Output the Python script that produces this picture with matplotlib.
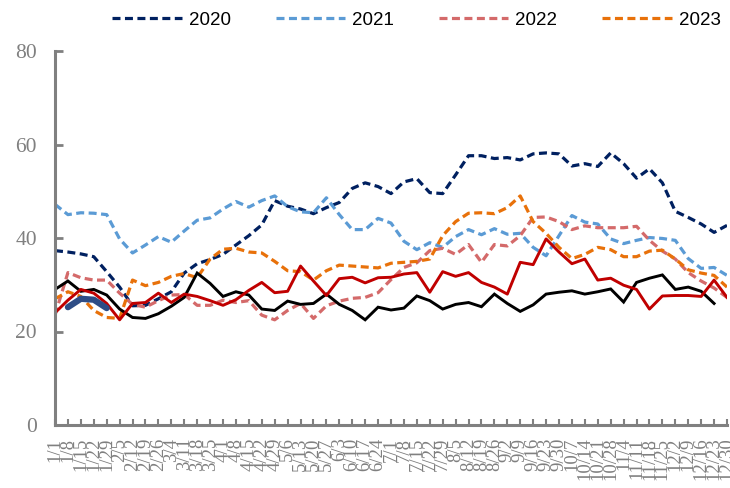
import matplotlib
matplotlib.use("Agg")
import matplotlib.pyplot as plt
import numpy as np

dates = ["1/1","1/8","1/15","1/22","1/29","2/5","2/12","2/19","2/26","3/4","3/11","3/18","3/25",
         "4/1","4/8","4/15","4/22","4/29","5/6","5/13","5/20","5/27","6/3","6/10","6/17","6/24",
         "7/1","7/8","7/15","7/22","7/29","8/5","8/12","8/19","8/26","9/2","9/9","9/16","9/23","9/30",
         "10/7","10/14","10/21","10/28","11/4","11/11","11/18","11/25","12/2","12/9","12/16","12/23","12/30"]

y2020 = [37.3,37.0,36.6,36.0,32.8,29.5,25.5,25.6,27.0,28.5,32.5,34.5,35.4,36.5,38.5,40.5,42.8,48.0,
         46.8,46.2,45.2,46.5,47.6,50.6,51.8,51.0,49.5,52.0,52.7,49.7,49.5,53.5,57.6,57.6,57.0,57.2,
         56.7,58.0,58.2,58.0,55.4,55.9,55.3,58.2,55.9,52.8,54.8,51.8,45.7,44.4,43.0,41.2,42.7]
y2021 = [47.2,45.0,45.4,45.3,45.0,39.8,36.8,38.5,40.3,39.1,41.5,43.8,44.3,46.2,47.8,46.6,48.0,49.0,
         46.7,45.6,45.4,48.6,45.0,41.8,41.8,44.2,43.2,39.3,37.5,39.0,38.0,40.3,41.8,40.7,42.0,40.8,
         41.0,38.0,36.2,40.5,44.8,43.4,43.0,39.8,38.8,39.5,40.1,39.9,39.5,35.6,33.5,33.7,32.0]
y2022 = [23.5,32.6,31.5,31.0,31.0,28.2,25.8,25.2,26.6,27.8,27.9,25.6,25.6,26.7,26.2,26.6,23.5,22.5,
         24.5,26.0,22.8,25.5,26.5,27.1,27.3,28.3,31.1,33.7,34.7,37.3,37.8,36.5,38.6,34.8,38.6,38.3,
         40.5,44.4,44.5,43.5,41.8,42.6,42.2,42.2,42.2,42.5,39.5,37.2,35.5,32.6,30.8,29.3,27.3]
y2023 = [27.0,28.5,27.5,24.5,23.0,22.8,31.0,29.8,30.5,31.8,32.4,31.5,35.5,37.6,37.8,37.0,36.8,35.0,
         33.0,32.8,31.0,33.0,34.2,34.0,33.8,33.6,34.6,34.8,35.0,35.5,40.5,43.5,45.3,45.4,45.2,46.5,
         49.0,43.5,41.0,38.0,35.6,36.5,38.0,37.5,36.0,36.0,37.2,37.4,35.5,33.2,32.5,32.0,29.5]
y_black = [29.0,30.8,28.6,29.0,27.8,24.8,23.0,22.8,23.8,25.4,27.3,32.5,30.3,27.5,28.5,27.8,24.8,24.5,
           26.5,25.8,26.0,28.0,25.8,24.5,22.5,25.2,24.6,25.0,27.6,26.6,24.8,25.8,26.2,25.3,28.0,26.0,
           24.3,25.7,28.0,28.4,28.7,28.0,28.5,29.1,26.3,30.5,31.4,32.1,29.0,29.5,28.6,26.0,np.nan]
y_red = [24.0,26.7,29.0,28.2,26.0,22.5,26.0,26.2,28.2,26.2,28.0,27.5,26.6,25.6,26.8,28.8,30.5,28.3,
         28.6,34.0,30.8,27.7,31.3,31.6,30.4,31.5,31.6,32.3,32.6,28.4,32.8,31.8,32.6,30.5,29.5,28.0,
         34.8,34.3,39.8,37.0,34.5,35.5,31.0,31.4,29.9,29.0,24.8,27.6,27.7,27.7,27.5,31.0,27.3]
y_thick = [np.nan,25.2,27.0,26.8,25.0] + [np.nan] * 48

legend_labels = ["2020", "2021", "2022", "2023"]

fig = plt.figure(figsize=(7.3, 4.88), dpi=100)
ax = fig.add_axes([55/730, 1-425/488, (727-55)/730, (425-51)/488])

x = np.arange(len(dates))
dash = (0, (2.5, 1.4))
handles = []
for y, c, lab in [(y2020, "#002060", "2020"), (y2021, "#5B9BD5", "2021"),
                  (y2022, "#D46A6A", "2022"), (y2023, "#E8710A", "2023")]:
    h, = ax.plot(x, y, color=c, lw=2.3, linestyle=dash, dash_capstyle="butt", label=lab)
    handles.append(h)
ax.plot(x, y_black, color="black", lw=2.1, solid_joinstyle="miter")
ax.plot(x, y_red, color="#C00000", lw=2.1)
ax.plot(x, y_thick, color="#2E4D86", lw=4.5, solid_capstyle="round")

ax.set_xlim(0, 52)
ax.set_ylim(0, 80)
ax.set_yticks([0, 20, 40, 60, 80])
ax.set_xticks(x)
ax.set_xticklabels(dates, rotation=90, fontsize=13.5, family="Liberation Serif", color="#808080")
for t in ax.get_yticklabels():
    t.set_fontfamily("Liberation Serif")
ax.tick_params(axis="y", direction="in", length=6, width=2, color="#808080",
               labelsize=15.5, labelcolor="#808080", pad=13)
ax.tick_params(axis="x", direction="in", length=4, width=1.5, color="#808080", pad=9)
for s in ["top", "right"]:
    ax.spines[s].set_visible(False)
for s in ["left", "bottom"]:
    ax.spines[s].set_color("#808080")
    ax.spines[s].set_linewidth(2.2)

fig.legend(handles=handles, labels=legend_labels, loc="center", bbox_to_anchor=(0.5705, 0.959),
           ncol=4, frameon=False, handlelength=3.7, handletextpad=0.37, columnspacing=2.4,
           prop={"family": "Liberation Sans", "size": 13.5})

fig.savefig("out.png", dpi=100)
